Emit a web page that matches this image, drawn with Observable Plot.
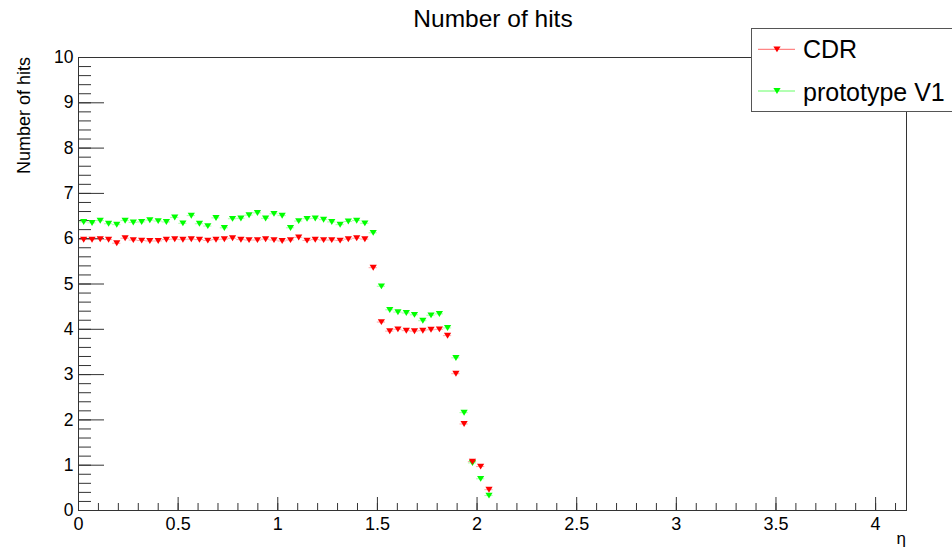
<!DOCTYPE html>
<html>
<head>
<meta charset="utf-8">
<script src="https://cdn.jsdelivr.net/npm/d3@7"></script>
<script src="https://cdn.jsdelivr.net/npm/@observablehq/plot@0.6"></script>
<style>
  html, body { margin: 0; padding: 0; background: white; }
  #chart { position: relative; width: 952px; height: 550px; }
</style>
</head>
<body>
<div id="chart"></div>
<script>
// ---- data ----
const eta = [0.026, 0.068, 0.109, 0.151, 0.192, 0.234, 0.275, 0.317, 0.358, 0.400,
             0.441, 0.483, 0.524, 0.566, 0.607, 0.649, 0.690, 0.732, 0.773, 0.815,
             0.856, 0.898, 0.939, 0.981, 1.022, 1.064, 1.105, 1.147, 1.188, 1.230,
             1.271, 1.313, 1.354, 1.396, 1.437, 1.479, 1.520, 1.562, 1.603, 1.645,
             1.686, 1.728, 1.769, 1.811, 1.852, 1.894, 1.935, 1.977, 2.018, 2.060];
const cdr = [5.98, 5.98, 5.99, 5.98, 5.90, 6.01, 5.97, 5.96, 5.95, 5.95,
             5.98, 5.99, 5.98, 5.99, 5.98, 5.96, 5.98, 5.99, 6.01, 5.98,
             5.97, 5.97, 5.99, 5.97, 5.95, 5.97, 6.03, 5.96, 5.98, 5.97,
             5.97, 5.96, 5.99, 6.01, 5.99, 5.36, 4.16, 3.96, 4.00, 3.97,
             3.96, 3.97, 3.99, 4.00, 3.86, 3.02, 1.91, 1.08, 0.97, 0.46];
const protoV1 = [6.37, 6.35, 6.40, 6.33, 6.31, 6.40, 6.36, 6.37, 6.41, 6.39,
                 6.37, 6.47, 6.34, 6.51, 6.33, 6.28, 6.46, 6.24, 6.44, 6.45,
                 6.52, 6.57, 6.45, 6.55, 6.51, 6.24, 6.39, 6.44, 6.45, 6.42,
                 6.37, 6.31, 6.38, 6.40, 6.34, 6.13, 4.95, 4.43, 4.38, 4.36,
                 4.32, 4.19, 4.31, 4.34, 4.03, 3.37, 2.16, 1.05, 0.70, 0.33];
const seriesNames = ["CDR", "prototype V1"];
const seriesColors = ["#ff0000", "#00ff00"];
const xMajorTicks = [0, 0.5, 1, 1.5, 2, 2.5, 3, 3.5, 4];
const yMajorTicks = [0, 1, 2, 3, 4, 5, 6, 7, 8, 9, 10];
const binHalfWidth = 0.0207;
const titleText = "Number of hits";
const yTitle = "Number of hits";
const xTitle = "η";

// ---- build tables ----
const cdrRows = eta.map((e, i) => ({eta: e, hits: cdr[i]}));
const protoRows = eta.map((e, i) => ({eta: e, hits: protoV1[i]}));
const xMinorTicks = d3.range(0, 42).map(i => i / 10);
const yMinorTicks = d3.range(0, 51).map(i => i / 5);

const FONT = "'Liberation Sans', Arial, Helvetica, sans-serif";
const MARKER_R = 3.6;

// downward-pointing triangle marker (ROOT marker 23)
const triDown = {
  draw(ctx, size) {
    const r = Math.sqrt(size / Math.PI);
    ctx.moveTo(-r, -r * 0.8);
    ctx.lineTo(r, -r * 0.8);
    ctx.lineTo(0, r * 0.85);
    ctx.closePath();
  }
};

function seriesMarks(rows, color) {
  return [
    Plot.ruleY(rows, {y: "hits", x1: d => d.eta - binHalfWidth, x2: d => d.eta + binHalfWidth,
                      stroke: color, strokeOpacity: 0.35, strokeWidth: 1}),
    Plot.dot(rows, {x: "eta", y: "hits", r: MARKER_R, symbol: triDown, fill: color, stroke: "none"})
  ];
}

const chart = Plot.plot({
  width: 952,
  height: 550,
  marginTop: 57,
  marginBottom: 40,
  marginLeft: 78,
  marginRight: 46,
  style: {fontFamily: FONT, background: "white", color: "black", overflow: "visible"},
  x: {domain: [0, 4.155]},
  y: {domain: [0, 10]},
  marks: [
    // inward ticks (ROOT style)
    Plot.axisY({ticks: yMinorTicks, tickSize: 13, dx: 13, text: null, label: null, stroke: "#333"}),
    Plot.axisY({ticks: yMajorTicks, tickSize: 26, dx: 26, text: null, label: null, stroke: "#333"}),
    Plot.axisX({ticks: xMinorTicks, tickSize: 7, dy: -7, text: null, label: null, stroke: "#333"}),
    Plot.axisX({ticks: xMajorTicks, tickSize: 13, dy: -13, text: null, label: null, stroke: "#333"}),
    // tick labels
    Plot.axisY({ticks: yMajorTicks, tickSize: 0, tickPadding: 5, fontSize: 17.5, label: null,
                tickFormat: d => String(d), fill: "black"}),
    Plot.axisX({ticks: xMajorTicks, tickSize: 0, tickPadding: 6.5, fontSize: 18, label: null,
                tickFormat: d => String(d), fill: "black"}),
    ...seriesMarks(protoRows, seriesColors[1]),
    ...seriesMarks(cdrRows, seriesColors[0]),
    Plot.frame({stroke: "#333"})
  ]
});

document.getElementById("chart").appendChild(chart);

// ---- titles and legend added to the same SVG ----
const svg = d3.select(chart);
svg.append("text")
  .attr("x", 493).attr("y", 27.3)
  .attr("text-anchor", "middle")
  .style("font-family", FONT).style("font-size", "24.5px").attr("fill", "black")
  .text(titleText);

svg.append("text")
  .attr("transform", "translate(29.5,57) rotate(-90)")
  .attr("text-anchor", "end")
  .style("font-family", FONT).style("font-size", "18px").attr("fill", "black")
  .text(yTitle);

svg.append("text")
  .attr("x", 906).attr("y", 544)
  .attr("text-anchor", "end")
  .style("font-family", FONT).style("font-size", "17px").attr("fill", "black")
  .text(xTitle);

const leg = svg.append("g");
leg.append("rect")
  .attr("x", 751.5).attr("y", 28.5).attr("width", 220).attr("height", 83)
  .attr("fill", "white").attr("stroke", "#555").attr("stroke-width", 1);
const legY = [49.3, 91];
const legBase = [58.3, 101];
seriesNames.forEach((name, i) => {
  leg.append("line")
    .attr("x1", 758).attr("x2", 795).attr("y1", legY[i]).attr("y2", legY[i])
    .attr("stroke", seriesColors[i]).attr("stroke-opacity", 0.6).attr("stroke-width", 1);
  const p = d3.path();
  triDown.draw(p, MARKER_R * MARKER_R * Math.PI);
  leg.append("path")
    .attr("d", p.toString())
    .attr("transform", `translate(777,${legY[i]})`)
    .attr("fill", seriesColors[i]);
  leg.append("text")
    .attr("x", 803).attr("y", legBase[i])
    .attr("text-anchor", "start")
    .style("font-family", FONT).style("font-size", "25px").attr("fill", "black")
    .text(name);
});
</script>
</body>
</html>
